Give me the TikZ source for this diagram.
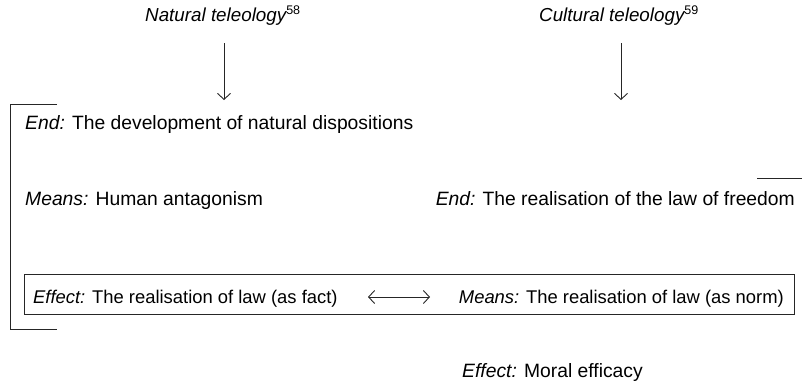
\documentclass[tikz,border=0pt]{standalone}
\usepackage{fontspec}
\setmainfont{Liberation Sans}
\usetikzlibrary{arrows.meta}
\tikzset{
  txt/.style={inner sep=0pt, font=\fontsize{19.3}{22}\selectfont},
  head/.style={inner sep=0pt, font=\fontsize{18.8}{22}\selectfont\itshape},
  boxtxt/.style={inner sep=0pt, font=\fontsize{18.4}{21}\selectfont},
  link/.style={line width=0.9pt, black!85},
  barb/.tip={Straight Barb[length=6pt,width=13pt,line width=0.9pt]},
  flow/.style={link, -{barb}},
}
\newcommand{\fn}[1]{\textsuperscript{\upshape\fontsize{12.5}{12.5}\selectfont #1}}
\begin{document}
\begin{tikzpicture}[x=1pt, y=-1pt]
  \useasboundingbox (0,0) rectangle (802,386);

  % headings and their arrows
  \node[head, anchor=base west] (nat) at (145,21) {Natural teleology\fn{58}};
  \node[head, anchor=base west] (cul) at (539,21) {Cultural teleology\fn{59}};
  \coordinate (natA) at (224,43);
  \coordinate (natB) at (224,100);
  \coordinate (culA) at (621,43);
  \coordinate (culB) at (621,100);
  \draw[flow] (natA) -- (natB);
  \draw[flow] (culA) -- (culB);

  % natural teleology column
  \node[txt, anchor=base west] (end1) at (25,129) {{\itshape End:} The development of natural dispositions};
  \node[txt, anchor=base west] (means1) at (25,205) {{\itshape Means:} Human antagonism};

  % cultural teleology column
  \node[txt, anchor=base east] (end2) at (795,205) {{\itshape End:} The realisation of the law of freedom};
  \coordinate (tickA) at (757,178);
  \coordinate (tickB) at (802,178);
  \draw[link] (tickA) -- (tickB);

  % framed row
  \node[draw, link, minimum width=770pt, minimum height=40pt, inner sep=0pt, anchor=south west] (row) at (24,315) {};
  \node[boxtxt, anchor=base west] (eff1) at (33,303) {{\itshape Effect:} The realisation of law (as fact)};
  \node[boxtxt, anchor=base east] (means2) at (784,303) {{\itshape Means:} The realisation of law (as norm)};
  \coordinate (dA) at (368,297);
  \coordinate (dB) at (430,297);
  \draw[link, {barb}-{barb}] (dA) -- (dB);

  % bracket on the left
  \coordinate (b1) at (57,104);
  \coordinate (b2) at (10,104);
  \coordinate (b3) at (10,329);
  \coordinate (b4) at (57,329);
  \draw[link] (b1) -- (b2) -- (b3) -- (b4);

  \node[txt, anchor=base west] (eff2) at (462,377) {{\itshape Effect:} Moral efficacy};
\end{tikzpicture}
\end{document}
